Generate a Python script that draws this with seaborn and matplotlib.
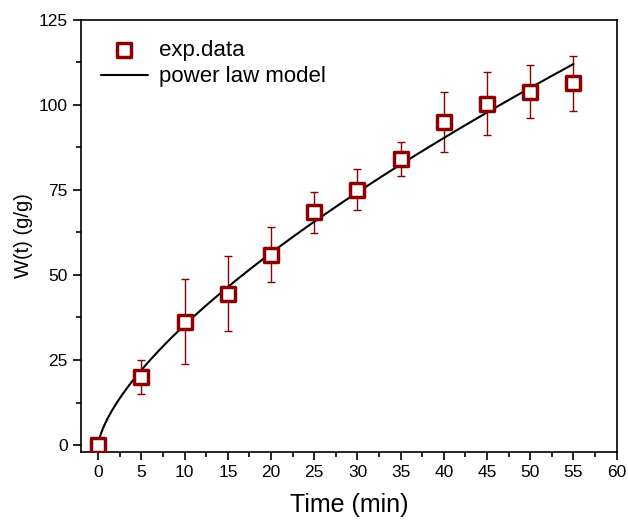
import numpy as np
import matplotlib
matplotlib.use("Agg")
import matplotlib.pyplot as plt
import pandas as pd
import seaborn as sns
from matplotlib.ticker import MultipleLocator

# dados experimentais
time_min = [0, 5, 10, 15, 20, 25, 30, 35, 40, 45, 50, 55]
w_mean = [0, 20.0, 36.2, 44.5, 56.0, 68.4, 75.1, 84.0, 94.9, 100.3, 103.9, 106.3]
w_err = [0, 5.0, 12.5, 11.0, 8.2, 6.0, 6.1, 5.0, 8.8, 9.2, 7.8, 8.0]

# parametros do modelo de lei de potencia W = k * t^n
k_fit = 7.43
n_fit = 0.677

sns.set_theme(style="ticks")
plt.rcParams['font.family'] = ['Liberation Sans', 'DejaVu Sans']
plt.rcParams['text.color'] = 'black'
plt.rcParams['axes.labelcolor'] = 'black'

dados = pd.DataFrame({"t": time_min, "W": w_mean, "err": w_err})
t_mod = np.linspace(0, 55, 300)
modelo = pd.DataFrame({"t": t_mod, "W": k_fit * t_mod ** n_fit})

fig = plt.figure(figsize=(6.28, 5.2), dpi=100)
ax = fig.add_axes([0.129, 0.131, 0.853, 0.831])

cor = "#8b0000"
ax.errorbar(dados.t, dados.W, yerr=dados.err, fmt="none", ecolor=cor,
            elinewidth=1, capsize=3, capthick=1, zorder=2)
sns.lineplot(data=modelo, x="t", y="W", color="black", linewidth=1.5,
             ax=ax, label="power law model", zorder=3)
sns.scatterplot(data=dados, x="t", y="W", marker="s", s=110,
                facecolor="white", edgecolor=cor, linewidth=2.5,
                ax=ax, label="exp.data", zorder=4)

ax.set_xlim(-2, 60)
ax.set_ylim(-2, 125)
ax.xaxis.set_major_locator(MultipleLocator(5))
ax.xaxis.set_minor_locator(MultipleLocator(2.5))
ax.yaxis.set_major_locator(MultipleLocator(25))
ax.yaxis.set_minor_locator(MultipleLocator(12.5))
ax.tick_params(which="major", direction="out", length=6, width=1.2, labelsize=12.5,
               colors="black", labelcolor="black")
ax.tick_params(which="minor", direction="out", length=3.5, width=1.2, colors="black")
for s in ax.spines.values():
    s.set_linewidth(1.2)
    s.set_color("black")

ax.set_xlabel("Time (min)", fontsize=18, labelpad=9, color="black")
ax.set_ylabel("W(t) (g/g)", fontsize=14.5, labelpad=4, color="black")

h, l = ax.get_legend_handles_labels()
leg = ax.legend(h[::-1], l[::-1], loc="upper left", frameon=False, fontsize=16,
                bbox_to_anchor=(0.0, 1.0), handlelength=2.1, handletextpad=0.5,
                labelspacing=0.25)
for txt in leg.get_texts():
    txt.set_color("black")

fig.savefig("out.png", dpi=100)
